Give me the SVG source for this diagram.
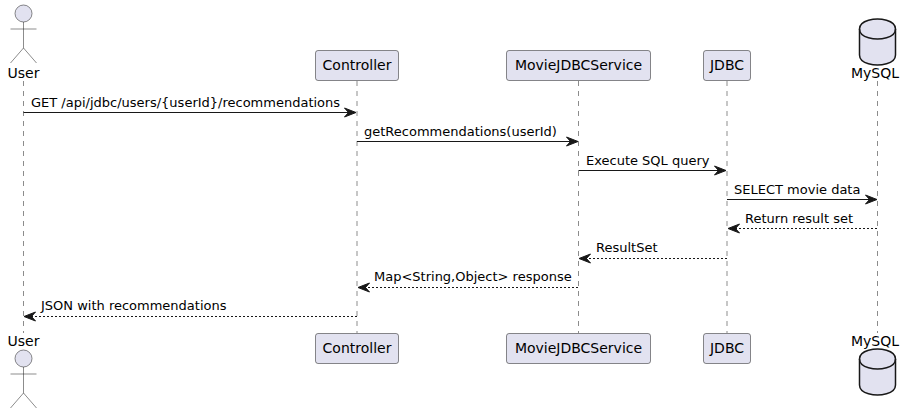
<svg xmlns="http://www.w3.org/2000/svg" width="911" height="414" viewBox="0 0 911 414">
<style>
text{font-family:"DejaVu Sans",sans-serif;fill:#000}
.n{font-size:14px;text-anchor:middle}
.m{font-size:13px}
.box{fill:#E2E2F0;stroke:#181818;stroke-width:.5}
.life{stroke:#181818;stroke-width:.5;stroke-dasharray:5,5;fill:none}
.act{stroke:#181818;stroke-width:.5}
.db{fill:#E2E2F0;stroke:#181818;stroke-width:1.5}
.c{stroke:#181818;fill:none;stroke-width:1}
.d{stroke-dasharray:2,2}
.h{fill:#181818;stroke:#181818}
</style>
<defs>
<g id="actor"><circle class="act" fill="#E2E2F0" cx="0" cy="13.5" r="8.5"/><path class="act" fill="none" d="M0 22V48M-13 29H13M0 48L-13 63M0 48L13 63"/></g>
<g id="cyl"><path class="db" d="M-18 10C-18 0 0 0 0 0C0 0 18 0 18 10V36C18 46 0 46 0 46C0 46 -18 46 -18 36Z"/><path class="db" d="M-18 10C-18 20 0 20 0 20C0 20 18 20 18 10" style="fill:none"/></g>
<path id="ar" class="h" d="M-11.5 -4.5L0 0L-11.5 4.5L-7.5 0Z"/>
<path id="al" class="h" d="M11.5 -4.5L0 0L11.5 4.5L7.5 0Z"/>
</defs>
<g id="lifelines">
<line class="life" x1="23.5" y1="81" x2="23.5" y2="333"/>
<line class="life" x1="357" y1="81" x2="357" y2="333"/>
<line class="life" x1="578.5" y1="81" x2="578.5" y2="333"/>
<line class="life" x1="727" y1="81" x2="727" y2="333"/>
<line class="life" x1="877.5" y1="81" x2="877.5" y2="333"/>
</g>
<g id="user-top"><use href="#actor" x="23.5" y="0"/><text class="n" x="23.5" y="78">User</text></g>
<g id="controller-top"><rect class="box" x="315.5" y="50.5" width="83" height="30" rx="2.5"/><text class="n" x="357" y="70">Controller</text></g>
<g id="service-top"><rect class="box" x="506.5" y="50.5" width="144" height="30" rx="2.5"/><text class="n" x="578.5" y="70">MovieJDBCService</text></g>
<g id="jdbc-top"><rect class="box" x="703.5" y="50.5" width="47" height="30" rx="2.5"/><text class="n" x="727" y="70">JDBC</text></g>
<g id="mysql-top"><use href="#cyl" x="877.5" y="19"/><text class="n" x="875" y="78">MySQL</text></g>
<g id="user-bottom"><text class="n" x="23.5" y="346">User</text><use href="#actor" x="23.5" y="345"/></g>
<g id="controller-bottom"><rect class="box" x="315.5" y="333.5" width="83" height="30" rx="2.5"/><text class="n" x="357" y="353">Controller</text></g>
<g id="service-bottom"><rect class="box" x="506.5" y="333.5" width="144" height="30" rx="2.5"/><text class="n" x="578.5" y="353">MovieJDBCService</text></g>
<g id="jdbc-bottom"><rect class="box" x="703.5" y="333.5" width="47" height="30" rx="2.5"/><text class="n" x="727" y="353">JDBC</text></g>
<g id="mysql-bottom"><text class="n" x="875" y="346">MySQL</text><use href="#cyl" x="877.5" y="349"/></g>
<g id="connectors">
<line class="c" x1="23.5" y1="112.5" x2="352" y2="112.5"/><use href="#ar" x="356" y="112.5"/>
<text class="m" x="31" y="107">GET /api/jdbc/users/{userId}/recommendations</text>
<line class="c" x1="357" y1="141.5" x2="573" y2="141.5"/><use href="#ar" x="578" y="141.5"/>
<text class="m" x="364" y="136">getRecommendations(userId)</text>
<line class="c" x1="578.5" y1="170.5" x2="722" y2="170.5"/><use href="#ar" x="726" y="170.5"/>
<text class="m" x="586" y="165">Execute SQL query</text>
<line class="c" x1="727" y1="199.5" x2="872" y2="199.5"/><use href="#ar" x="877" y="199.5"/>
<text class="m" x="734" y="194">SELECT movie data</text>
<line class="c d" x1="877" y1="228.5" x2="732" y2="228.5"/><use href="#al" x="728" y="228.5"/>
<text class="m" x="745" y="223">Return result set</text>
<line class="c d" x1="727" y1="258.5" x2="584" y2="258.5"/><use href="#al" x="579" y="258.5"/>
<text class="m" x="596" y="252">ResultSet</text>
<line class="c d" x1="578" y1="287.5" x2="362" y2="287.5"/><use href="#al" x="358" y="287.5"/>
<text class="m" x="374" y="281">Map&lt;String,Object&gt; response</text>
<line class="c d" x1="357" y1="316.5" x2="29" y2="316.5"/><use href="#al" x="24" y="316.5"/>
<text class="m" x="41" y="310">JSON with recommendations</text>
</g>
</svg>
